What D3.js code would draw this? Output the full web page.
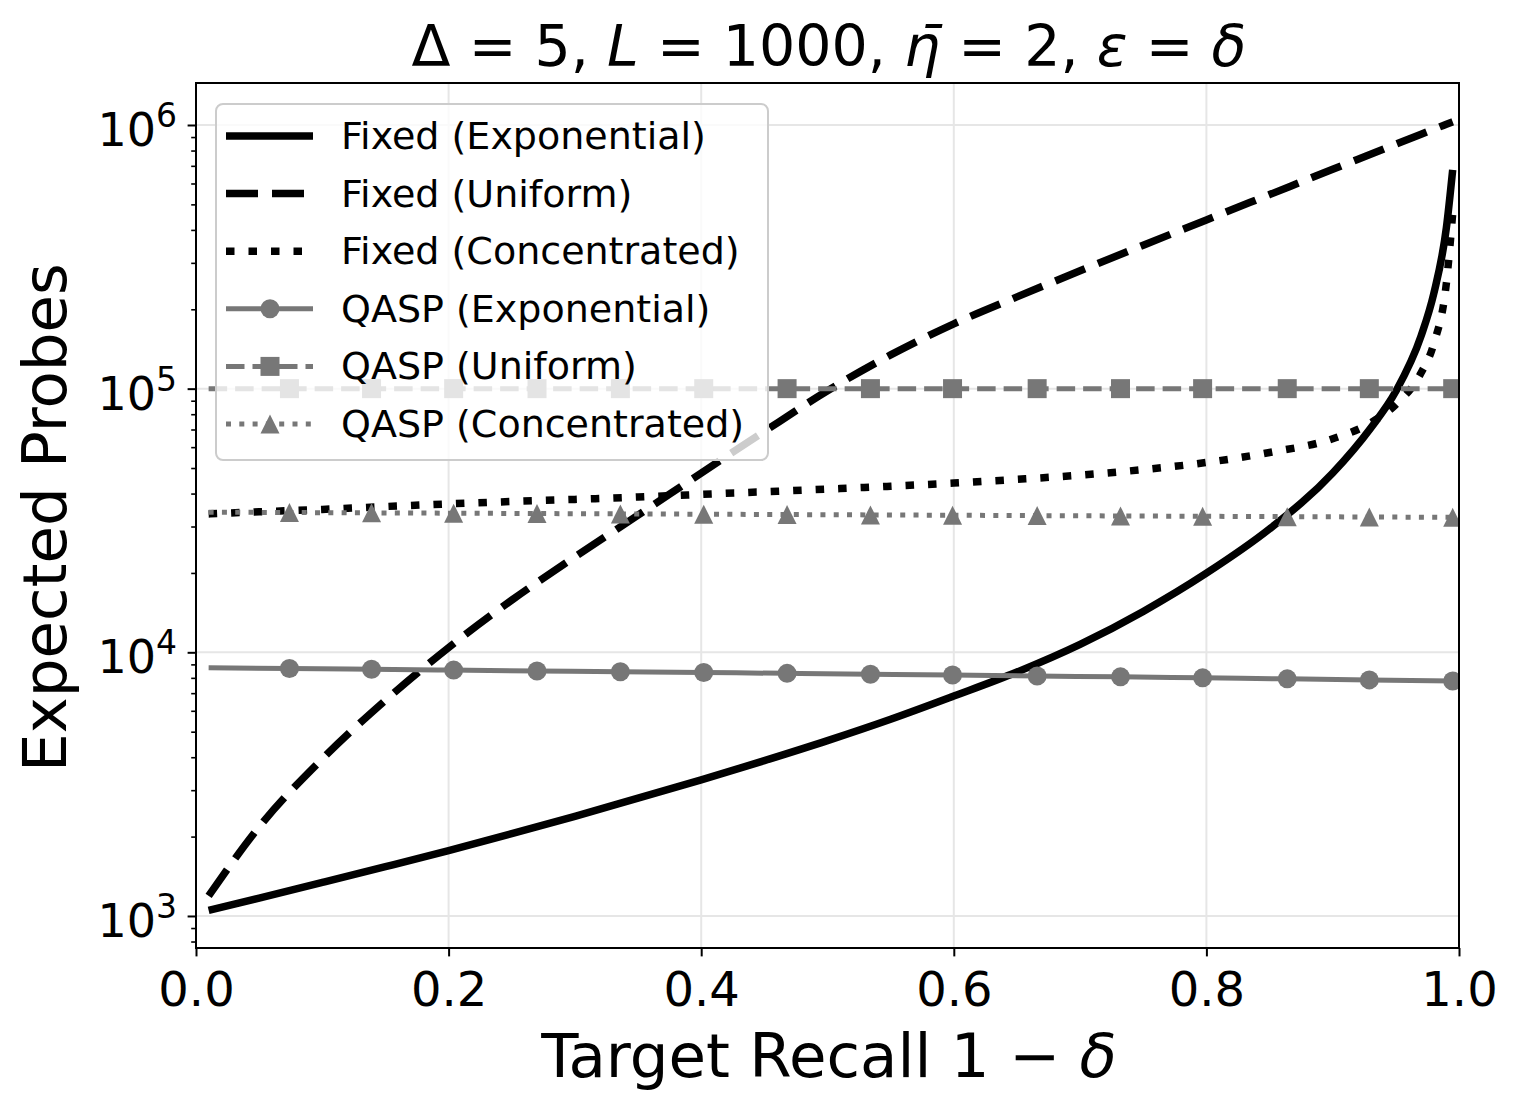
<!DOCTYPE html>
<html>
<head>
<meta charset="utf-8">
<script src="https://cdn.jsdelivr.net/npm/d3@7"></script>
<style>
  body { margin: 0; background: #fff; }
  text { font-family: "DejaVu Sans", sans-serif; }
</style>
</head>
<body>
<svg id="chart" width="1519" height="1111"></svg>
<script>
// x samples for the fixed-schedule curves (target recall 1 - delta)
const fixedX = [0.01, 0.05, 0.1, 0.15, 0.2, 0.25, 0.3, 0.35, 0.4, 0.45, 0.5, 0.55, 0.6,
  0.65, 0.7, 0.75, 0.8, 0.85, 0.9, 0.93, 0.95, 0.97, 0.98, 0.99, 0.995];

const fixedExponential = [1050, 1169, 1340, 1538, 1770, 2051, 2388, 2799, 3281, 3882, 4624, 5572, 6823,
  8414, 10715, 14289, 19953, 29376, 47863, 70795, 97724, 158489, 229087, 407380, 676083];

const fixedUniform = [1191, 2178, 3945, 6577, 10423, 15776, 23014, 33113, 47863, 68865, 98175, 134276, 176198,
  222844, 279898, 349945, 436516, 544503, 679204, 774462, 845279, 922571, 963829, 1006932, 1028016];

const fixedConcentrated = [33497, 34119, 34834, 35727, 36559, 37325, 38019, 38815, 39719, 40644, 41591, 42658, 43853,
  45290, 46989, 49317, 52481, 57280, 64565, 74131, 87096, 114815, 147911, 251189, 461318];

// QASP curves: first point has no marker, the rest carry markers
const qaspX = [0.01, 0.074, 0.139, 0.204, 0.270, 0.336, 0.402, 0.468, 0.534, 0.599, 0.666, 0.732, 0.797, 0.864, 0.929, 0.995];

const qaspExponential = [8730, 8680, 8620, 8560, 8500, 8440, 8380, 8320, 8260, 8200, 8130, 8070, 8000, 7930, 7860, 7780];
const qaspUniform = [100000, 100000, 100000, 100000, 100000, 100000, 100000, 100000, 100000, 100000, 100000, 100000, 100000, 100000, 100000, 100000];
const qaspConcentrated = [34000, 33900, 33800, 33700, 33600, 33500, 33400, 33300, 33200, 33100, 33000, 32900, 32800, 32700, 32600, 32500];

const xTicks = [0, 0.2, 0.4, 0.6, 0.8, 1.0];
const yTicks = [1e3, 1e4, 1e5, 1e6];

const series = [
  { name: 'Fixed (Exponential)', xs: fixedX, ys: fixedExponential, color: '#000', width: 7.5, dash: null, marker: null },
  { name: 'Fixed (Uniform)', xs: fixedX, ys: fixedUniform, color: '#000', width: 7.5, dash: '32,14', marker: null },
  { name: 'Fixed (Concentrated)', xs: fixedX, ys: fixedConcentrated, color: '#000', width: 7.5, dash: '8.5,14', marker: null },
  { name: 'QASP (Exponential)', xs: qaspX, ys: qaspExponential, color: '#777', width: 5, dash: null, marker: 'circle' },
  { name: 'QASP (Uniform)', xs: qaspX, ys: qaspUniform, color: '#777', width: 5, dash: '18.5,8', marker: 'square' },
  { name: 'QASP (Concentrated)', xs: qaspX, ys: qaspConcentrated, color: '#777', width: 5, dash: '5,8.3', marker: 'triangle' },
];

const svg = d3.select('#chart');
const margin = { left: 196, right: 1459, top: 83, bottom: 948 };

const x = d3.scaleLinear().domain([0, 1]).range([margin.left, margin.right]);
const y = d3.scaleLog().domain([756, 1.443e6]).range([margin.bottom, margin.top]);

// grid
const grid = svg.append('g');
grid.selectAll('.gx').data(xTicks).enter().append('line')
  .attr('x1', d => x(d)).attr('x2', d => x(d))
  .attr('y1', margin.top).attr('y2', margin.bottom)
  .attr('stroke', '#e6e6e6').attr('stroke-width', 2);
grid.selectAll('.gy').data(yTicks).enter().append('line')
  .attr('x1', margin.left).attr('x2', margin.right)
  .attr('y1', d => y(d)).attr('y2', d => y(d))
  .attr('stroke', '#e6e6e6').attr('stroke-width', 2);

// clip
svg.append('clipPath').attr('id', 'clip')
  .append('rect')
  .attr('x', margin.left).attr('y', margin.top)
  .attr('width', margin.right - margin.left).attr('height', margin.bottom - margin.top);

const plot = svg.append('g').attr('clip-path', 'url(#clip)');

const markerPath = (type, size) => {
  const h = size / 2;
  if (type === 'circle') return d3.symbol().type(d3.symbolCircle).size(Math.PI * h * h)();
  if (type === 'square') return `M${-h},${-h}H${h}V${h}H${-h}Z`;
  return `M0,${-h}L${h},${h}L${-h},${h}Z`;
};

series.forEach(s => {
  const pts = s.xs.map((v, i) => [v, s.ys[i]]);
  const line = d3.line()
    .x(d => x(d[0]))
    .y(d => y(d[1]))
    .curve(d3.curveMonotoneX);

  plot.append('path')
    .datum(pts)
    .attr('fill', 'none')
    .attr('stroke', s.color)
    .attr('stroke-width', s.width)
    .attr('stroke-dasharray', s.dash)
    .attr('stroke-linejoin', 'round')
    .attr('d', line);

  if (s.marker) {
    plot.selectAll(null)
      .data(pts.slice(1))
      .enter()
      .append('path')
      .attr('transform', d => `translate(${x(d[0])},${y(d[1])})`)
      .attr('d', markerPath(s.marker, 19))
      .attr('fill', s.color);
  }
});

// axes
const xAxis = d3.axisBottom(x)
  .tickValues(xTicks)
  .tickFormat(d3.format('.1f'))
  .tickSize(8.4)
  .tickSizeOuter(0)
  .tickPadding(15.5);

const gx = svg.append('g')
  .attr('transform', `translate(0,${margin.bottom})`)
  .call(xAxis);
gx.select('.domain').remove();
gx.selectAll('line').attr('stroke', '#000').attr('stroke-width', 2);
gx.selectAll('text').attr('font-size', 48).attr('fill', '#000').attr('font-family', 'DejaVu Sans');

// minor log ticks
const minorTicks = [];
[100, 1000, 10000, 100000, 1000000].forEach(base => {
  for (let k = 2; k <= 9; k++) {
    const v = base * k;
    if (v > 756 && v < 1.443e6) minorTicks.push(v);
  }
});

const gyMinor = svg.append('g')
  .attr('transform', `translate(${margin.left},0)`)
  .call(d3.axisLeft(y).tickValues(minorTicks).tickFormat('').tickSize(4.8).tickSizeOuter(0));
gyMinor.select('.domain').remove();
gyMinor.selectAll('line').attr('stroke', '#000').attr('stroke-width', 1.6);

const gy = svg.append('g')
  .attr('transform', `translate(${margin.left},0)`)
  .call(d3.axisLeft(y).tickValues(yTicks).tickFormat('').tickSize(8.4).tickSizeOuter(0));
gy.select('.domain').remove();
gy.selectAll('line').attr('stroke', '#000').attr('stroke-width', 2);

// y tick labels as 10^n
yTicks.forEach(v => {
  const t = svg.append('text')
    .attr('x', 177)
    .attr('y', y(v) + 21)
    .attr('text-anchor', 'end')
    .attr('font-size', 46)
    .attr('fill', '#000');
  t.append('tspan').text('10');
  t.append('tspan')
    .attr('font-size', 33)
    .attr('dy', -19)
    .text(Math.round(Math.log10(v)));
});

// frame
svg.append('rect')
  .attr('x', margin.left).attr('y', margin.top)
  .attr('width', margin.right - margin.left).attr('height', margin.bottom - margin.top)
  .attr('fill', 'none').attr('stroke', '#000').attr('stroke-width', 2);

// title
const title = svg.append('text')
  .attr('x', 829).attr('y', 66)
  .attr('text-anchor', 'middle')
  .attr('font-size', 57)
  .attr('fill', '#000');
title.append('tspan').text('Δ = 5, ');
title.append('tspan').attr('font-style', 'italic').text('L');
title.append('tspan').text(' = 1000, ');
title.append('tspan').attr('font-style', 'italic').text('η\u0304');
title.append('tspan').text(' = 2, ');
title.append('tspan').attr('font-style', 'italic').text('ε');
title.append('tspan').text(' = ');
title.append('tspan').attr('font-style', 'italic').text('δ');

// x label
const xl = svg.append('text')
  .attr('x', 829).attr('y', 1077)
  .attr('text-anchor', 'middle')
  .attr('font-size', 61)
  .attr('fill', '#000');
xl.append('tspan').text('Target Recall 1 − ');
xl.append('tspan').attr('font-style', 'italic').text('δ');

// y label
svg.append('text')
  .attr('transform', `translate(66,${(margin.top + margin.bottom) / 2 + 2}) rotate(-90)`)
  .attr('text-anchor', 'middle')
  .attr('font-size', 61)
  .attr('fill', '#000')
  .text('Expected Probes');

// legend
const legend = svg.append('g');
legend.append('rect')
  .attr('x', 216).attr('y', 104)
  .attr('width', 552).attr('height', 356)
  .attr('rx', 7)
  .attr('fill', '#fff').attr('fill-opacity', 0.8)
  .attr('stroke', '#cccccc').attr('stroke-width', 2);

series.forEach((s, i) => {
  const cy = 136 + i * 57.6;
  legend.append('line')
    .attr('x1', 226).attr('x2', 313)
    .attr('y1', cy).attr('y2', cy)
    .attr('stroke', s.color)
    .attr('stroke-width', s.width)
    .attr('stroke-dasharray', s.dash);
  if (s.marker) {
    legend.append('path')
      .attr('transform', `translate(270,${cy})`)
      .attr('d', markerPath(s.marker, 19))
      .attr('fill', s.color);
  }
  legend.append('text')
    .attr('x', 341).attr('y', cy + 13)
    .attr('font-size', 38)
    .attr('fill', '#000')
    .text(s.name);
});
</script>
</body>
</html>
